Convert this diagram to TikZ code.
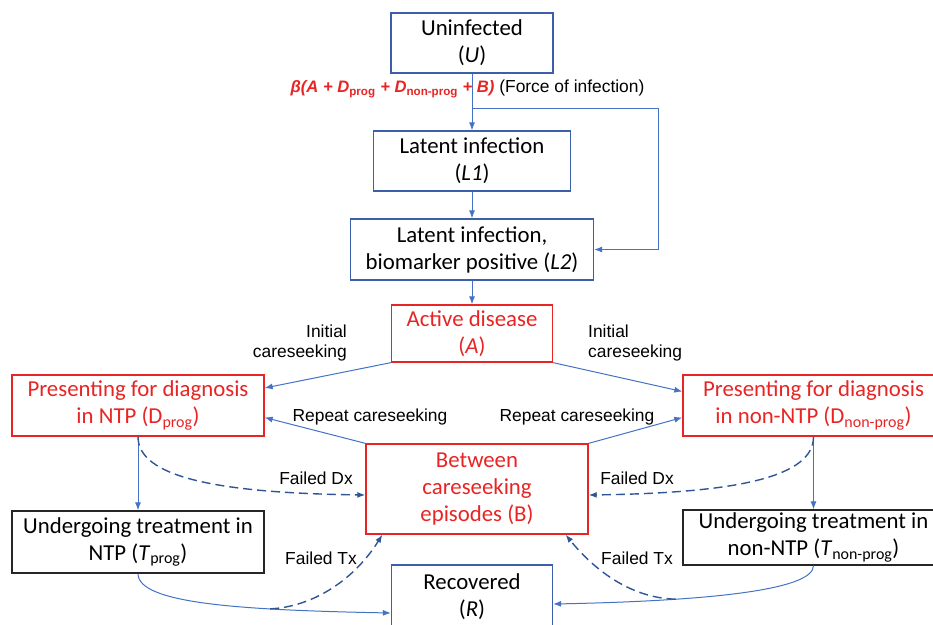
\documentclass[tikz,border=0pt]{standalone}
\usepackage{fontspec}
\setmainfont{Carlito}
\newfontfamily\arialf{Liberation Sans}
\usetikzlibrary{arrows.meta}
\definecolor{myred}{RGB}{232,36,36}
\definecolor{boxblue}{RGB}{60,95,170}
\definecolor{arrblue}{RGB}{68,114,196}
\definecolor{dashblue}{RGB}{47,85,151}
\tikzset{
  box/.style={draw,line width=1.3pt,inner sep=0pt,align=center,font=\fontsize{22.8}{27}\selectfont},
  bluebox/.style={box,draw=boxblue},
  redbox/.style={box,draw=myred,text=myred},
  blackbox/.style={box,draw=black!85},
  arr/.style={draw=arrblue,line width=1pt,-{Latex[length=8pt,width=6pt]}},
  darr/.style={draw=dashblue,line width=1.4pt,dash pattern=on 9pt off 5pt,-{Latex[length=8pt,width=6pt]}},
  lbl/.style={font=\arialf\fontsize{17.4}{20.5}\selectfont,inner sep=0pt}
}
\begin{document}
\begin{tikzpicture}[x=1pt,y=-1pt]
\useasboundingbox (0,0) rectangle (933,624);
\fill[white] (0,0) rectangle (933,624);
\clip (0,0) rectangle (933,624);

% boxes
\node[bluebox,minimum width=162pt,minimum height=60pt] (U) at (472,43) {Uninfected\\(\textit{U})};
\node[bluebox,minimum width=197pt,minimum height=60pt] (L1) at (472,161) {Latent infection\\(\textit{L1})};
\node[bluebox,minimum width=243pt,minimum height=61pt] (L2) at (472,249.5) {Latent infection,\\biomarker positive (\textit{L2})};
\node[redbox,minimum width=161pt,minimum height=57pt] (A) at (472,333.5) {Active disease\\(\textit{A})};
\node[redbox,minimum width=252pt,minimum height=61pt] (Dp) at (138,405.5) {Presenting for diagnosis\\in NTP (D\textsubscript{prog})};
\node[redbox,minimum width=261pt,minimum height=61pt] (Dn) at (813.5,405.5) {Presenting for diagnosis\\in non-NTP (D\textsubscript{non-prog})};
\node[redbox,minimum width=222pt,minimum height=90pt] (B) at (477,489) {Between\\careseeking\\episodes (B)};
\node[blackbox,minimum width=252pt,minimum height=62pt] (Tp) at (138,542) {Undergoing treatment in\\NTP (\textit{T}\textsubscript{prog})};
\node[blackbox,minimum width=261pt,minimum height=55pt] (Tn) at (813.5,537.5) {Undergoing treatment in\\non-NTP (\textit{T}\textsubscript{non-prog})};
\node[bluebox,minimum width=161pt,minimum height=63pt] (R) at (472,596.5) {Recovered\\(\textit{R})};

% force of infection
\node[lbl] (foi) at (467.5,89) {{\color{myred}\fontsize{16.6}{20}\selectfont\bfseries\itshape β(A + D\textsubscript{\upshape prog} + D\textsubscript{\upshape non-prog} + B)} (Force of infection)};

% top chain
\draw[arr] (U.south) -- (L1.north);
\coordinate (br) at (472,108);
\coordinate (brc) at (658,108);
\draw[arr] (br) -- (brc) |- (L2.east);
\draw[arr] (L1.south) -- (L2.north);
\draw[arr] (L2.south) -- (A.north);

% careseeking
\draw[arr] (A.south west) -- ([yshift=17.5pt]Dp.east);
\draw[arr] (A.south east) -- ([yshift=14pt]Dn.west);
\draw[arr] (B.north west) -- ([yshift=-12pt]Dp.east);
\draw[arr] (B.north east) -- ([yshift=-12pt]Dn.west);
\node[lbl,align=right,anchor=east] (ic1) at (347,343) {Initial\\careseeking};
\node[lbl,align=left,anchor=west] (ic2) at (588,343) {Initial\\careseeking};
\node[lbl] (rc1) at (370,417) {Repeat careseeking};
\node[lbl] (rc2) at (577,417) {Repeat careseeking};

% diagnosis to treatment
\draw[arr] (Dp.south) -- (Tp.north);
\draw[arr] (Dn.south) -- (Tn.north);
\draw[darr] (Dp.south) .. controls +(0,40) and +(-150,-2) .. ([yshift=-6pt]B.west);
\draw[darr] (Dn.south) .. controls +(0,40) and +(150,-2) .. ([yshift=-6pt]B.east);
\node[lbl] (fd1) at (316,478) {Failed Dx};
\node[lbl] (fd2) at (637,478) {Failed Dx};

% treatment to recovered
\draw[arr] (Tp.south) .. controls +(0,30) and +(-150,-3) .. coordinate[pos=0.7] (ftl) ([yshift=-16.5pt]R.west);
\draw[arr] (Tn.south) .. controls +(0,25) and +(150,-3) .. coordinate[pos=0.7] (ftr) ([yshift=-7.5pt]R.east);
\draw[darr] (ftl) .. controls +(43,-2) and +(-28,45) .. ([xshift=17pt]B.south west);
\draw[darr] (ftr) .. controls +(-48,-1) and +(25,31) .. ([xshift=-23pt]B.south east);
\node[lbl] (ft1) at (321,558) {Failed Tx};
\node[lbl] (ft2) at (637,558) {Failed Tx};
\end{tikzpicture}
\end{document}
